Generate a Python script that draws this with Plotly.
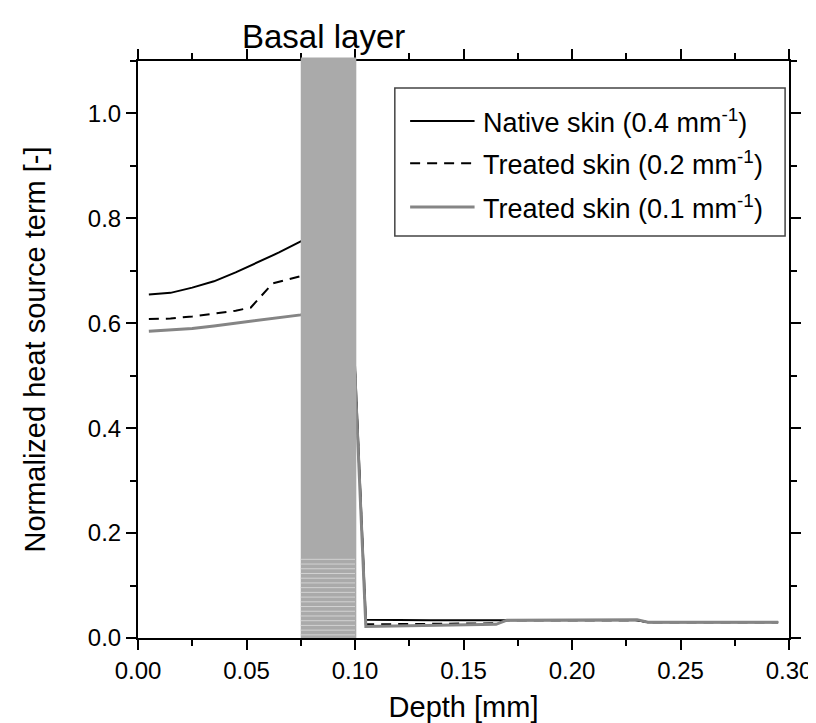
import numpy as np
import plotly.graph_objects as go

# ---- data ----
depth_native = [0.005, 0.015, 0.025, 0.035, 0.045, 0.055, 0.065, 0.075, 0.085, 0.100,
                0.105, 0.135, 0.165, 0.170, 0.200, 0.230, 0.235, 0.265, 0.295]
native = [0.655, 0.658, 0.668, 0.680, 0.697, 0.716, 0.735, 0.756, 0.780, 0.520,
          0.035, 0.034, 0.033, 0.034, 0.034, 0.034, 0.030, 0.030, 0.030]

depth_treated2 = [0.005, 0.015, 0.025, 0.035, 0.045, 0.052, 0.062, 0.075, 0.085, 0.100,
                  0.105, 0.135, 0.165, 0.170, 0.200, 0.230, 0.235, 0.265, 0.295]
treated2 = [0.608, 0.609, 0.613, 0.618, 0.624, 0.630, 0.676, 0.690, 0.700, 0.510,
            0.026, 0.027, 0.028, 0.034, 0.034, 0.034, 0.030, 0.030, 0.030]

depth_treated1 = [0.005, 0.015, 0.025, 0.035, 0.045, 0.055, 0.065, 0.075, 0.085, 0.100,
                  0.105, 0.135, 0.165, 0.170, 0.200, 0.230, 0.235, 0.265, 0.295]
treated1 = [0.585, 0.587, 0.590, 0.595, 0.600, 0.605, 0.610, 0.616, 0.630, 0.500,
            0.022, 0.024, 0.026, 0.034, 0.035, 0.035, 0.030, 0.030, 0.030]

basal_layer = [0.075, 0.100]
legend_names = ["Native skin (0.4 mm<sup>-1</sup>)",
                "Treated skin (0.2 mm<sup>-1</sup>)",
                "Treated skin (0.1 mm<sup>-1</sup>)"]

x_range = [0.0, 0.30]
y_range = [0.0, 1.1]
x_ticks = [0.00, 0.05, 0.10, 0.15, 0.20, 0.25, 0.30]
x_ticklabels = ["0.00", "0.05", "0.10", "0.15", "0.20", "0.25", "0.30"]
y_ticks = [0.0, 0.2, 0.4, 0.6, 0.8, 1.0]
y_ticklabels = ["0.0", "0.2", "0.4", "0.6", "0.8", "1.0"]

FONT = "Liberation Sans, Arial, Helvetica, sans-serif"
GRAY = "#858585"

fig = go.Figure()
styles = [dict(color="black", width=2),
          dict(color="black", width=2, dash="10px,7px"),
          dict(color=GRAY, width=3)]
series = [(depth_native, native), (depth_treated2, treated2), (depth_treated1, treated1)]
for (xs, ys), st, nm in zip(series, styles, legend_names):
    fig.add_trace(go.Scatter(x=xs, y=ys, mode="lines", line=st, name=nm, showlegend=False))

def xp(v):
    return (v - x_range[0]) / (x_range[1] - x_range[0])

shapes = []
# basal layer band (covers traces and the top axis line)
shapes.append(dict(type="rect", xref="paper", yref="paper",
                   x0=xp(basal_layer[0]), x1=xp(basal_layer[1]) + 0.002, y0=0, y1=1.006,
                   fillcolor="#aaaaaa", line=dict(width=0), layer="above"))
# light striations near bottom of band
for yv in np.arange(0.006, 0.155, 0.009):
    shapes.append(dict(type="line", xref="x", yref="y",
                       x0=basal_layer[0], x1=basal_layer[1], y0=yv, y1=yv,
                       line=dict(color="#d2d2d2", width=1), layer="above"))

# manual legend
lx0, lx1, ly0, ly1 = 0.3945, 0.994, 0.6967, 0.953
shapes.append(dict(type="rect", xref="paper", yref="paper", x0=lx0, x1=lx1, y0=ly0, y1=ly1,
                   fillcolor="white", line=dict(color="#444444", width=1.5), layer="above"))
rows = [0.896, 0.823, 0.747]
annotations = []
for ry, st, nm in zip(rows, styles, legend_names):
    shapes.append(dict(type="line", xref="paper", yref="paper", x0=0.418, x1=0.517, y0=ry, y1=ry,
                       line=st, layer="above"))
    annotations.append(dict(x=0.527, y=ry, xref="paper", yref="paper", text=nm, showarrow=False,
                            xanchor="left", yanchor="middle",
                            font=dict(family=FONT, size=27, color="black")))

annotations.append(dict(x=sum(basal_layer) / 2 - 0.002, y=1.043, xref="x", yref="paper",
                        text="Basal layer", showarrow=False, xanchor="center", yanchor="middle",
                        font=dict(family=FONT, size=33, color="black")))

axis_common = dict(showline=True, linecolor="black", linewidth=2, mirror="ticks",
                   ticks="outside", ticklen=10, tickwidth=2, tickcolor="black",
                   showgrid=False, zeroline=False,
                   tickfont=dict(family=FONT, size=24, color="black"))

fig.update_layout(
    width=816, height=723,
    margin=dict(l=130, r=27, t=53, b=93),
    paper_bgcolor="white", plot_bgcolor="white",
    shapes=shapes, annotations=annotations,
    xaxis=dict(range=x_range, tickvals=x_ticks, ticktext=x_ticklabels,
               minor=dict(dtick=0.025, ticks="outside", ticklen=6, tickwidth=2, tickcolor="black"),
               title=dict(text="Depth [mm]", font=dict(family=FONT, size=29, color="black"), standoff=14),
               **axis_common),
    yaxis=dict(range=y_range, tickvals=y_ticks, ticktext=y_ticklabels,
               minor=dict(dtick=0.1, ticks="outside", ticklen=6, tickwidth=2, tickcolor="black"),
               title=dict(text="Normalized heat source term [-]", font=dict(family=FONT, size=29, color="black"), standoff=34),
               **axis_common),
)

fig.write_html("out.html")
